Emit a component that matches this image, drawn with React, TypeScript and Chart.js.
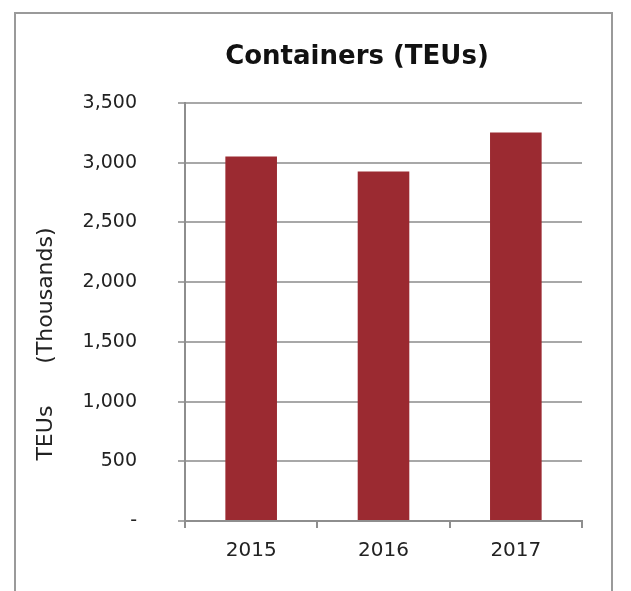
import React, { useEffect, useRef } from 'react';
import { Chart, registerables } from 'chart.js';

Chart.register(...registerables);

const categories = ['2015', '2016', '2017'];
const teusThousands = [3052, 2926, 3252];
const yMin = 0;
const yMax = 3500;
const yStep = 500;
const chartTitle = 'Containers (TEUs)';
const yAxisTitle = 'TEUs      (Thousands)';

const FONT = "'DejaVu Sans', Verdana, sans-serif";
const BAR_COLOR = '#9b2a31';
const GRID_COLOR = '#a8a8a8';
const AXIS_COLOR = '#8e8e8e';
const TEXT_COLOR = '#222222';

const decor = {
  id: 'decor',
  beforeDraw(chart: any) {
    const ctx = chart.ctx;
    ctx.save();
    ctx.fillStyle = '#ffffff';
    ctx.fillRect(0, 0, chart.width, chart.height);
    ctx.strokeStyle = '#9a9a9a';
    ctx.lineWidth = 2;
    ctx.strokeRect(15, 13, 597, 640);
    ctx.restore();
  },
  afterDraw(chart: any) {
    const ctx = chart.ctx;
    ctx.save();
    ctx.fillStyle = '#111111';
    ctx.textAlign = 'center';
    ctx.textBaseline = 'middle';
    ctx.font = `bold 26px ${FONT}`;
    ctx.fillText(chartTitle, 357, 57);
    ctx.translate(46, 344);
    ctx.rotate(-Math.PI / 2);
    ctx.fillStyle = TEXT_COLOR;
    ctx.font = `22px ${FONT}`;
    ctx.fillText(yAxisTitle, 0, 0);
    ctx.restore();
  },
};

export default function App() {
  const ref = useRef<HTMLCanvasElement>(null);
  useEffect(() => {
    if (!ref.current) return;
    const chart = new Chart(ref.current, {
      type: 'bar',
      data: {
        labels: categories,
        datasets: [
          {
            data: teusThousands,
            backgroundColor: BAR_COLOR,
            barPercentage: 0.39,
            categoryPercentage: 1,
          },
        ],
      },
      options: {
        responsive: false,
        animation: false,
        devicePixelRatio: 1,
        layout: { padding: { left: 20, right: 49, top: 103, bottom: 20 } },
        plugins: {
          legend: { display: false },
          tooltip: { enabled: false },
          title: { display: false },
        },
        scales: {
          x: {
            grid: {
              drawOnChartArea: false,
              tickLength: 7,
              color: AXIS_COLOR,
              lineWidth: 2,
              offset: true,
            },
            border: { color: AXIS_COLOR, width: 2 },
            ticks: { font: { family: FONT, size: 20 }, color: TEXT_COLOR, padding: 11 },
            afterFit: (s: any) => {
              s.height = 50;
            },
          },
          y: {
            min: yMin,
            max: yMax,
            grid: { color: GRID_COLOR, lineWidth: 2, tickLength: 7 },
            border: { color: AXIS_COLOR, width: 2 },
            ticks: {
              stepSize: yStep,
              padding: 41,
              font: { family: FONT, size: 19 },
              color: TEXT_COLOR,
              callback: (v: any) => (Number(v) === 0 ? '-' : Number(v).toLocaleString('en-US')),
            },
            afterFit: (s: any) => {
              s.width = 165;
            },
          },
        },
      },
      plugins: [decor],
    });
    return () => chart.destroy();
  }, []);
  return (
    <div style={{ position: 'absolute', left: 0, top: 0, width: 631, height: 591 }}>
      <canvas ref={ref} width={631} height={591} />
    </div>
  );
}
